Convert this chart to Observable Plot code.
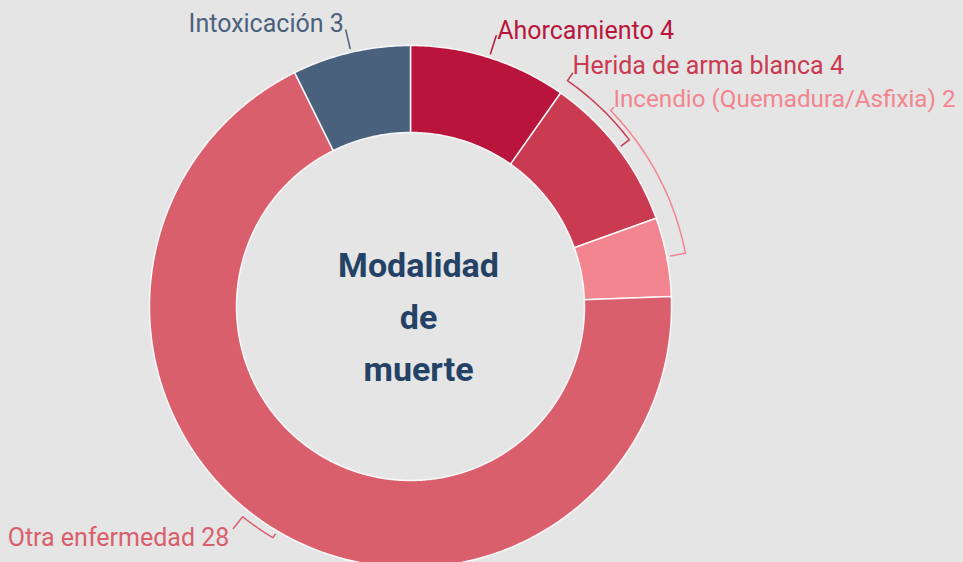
<!DOCTYPE html>
<html><head><meta charset="utf-8">
<script src="https://cdn.jsdelivr.net/npm/d3@7"></script>
<script src="https://cdn.jsdelivr.net/npm/@observablehq/plot@0.6"></script>
<style>
html,body{margin:0;padding:0;background:#e5e5e5;overflow:hidden}
#chart svg{display:block;background:#e5e5e5}
</style></head><body><div id="chart"></div>
<script>
// ---- data ----
const categories = ["Ahorcamiento", "Herida de arma blanca", "Incendio (Quemadura/Asfixia)", "Otra enfermedad", "Intoxicación"];
const values = [4, 4, 2, 28, 3];
const colors = ["#b9153c", "#ca3a51", "#f2858f", "#d95f6d", "#4a617d"];
const centerTitle = "Modalidad\nde\nmuerte";

// ---- label layout (annotation styling) ----
// labelAngle: angle (deg) where the label is attached (null = slice middle); bracketR: radius of bracket arc
const labelAngles = [null, 34.8, 45.6, 218.6, null];
const bracketR = [265, 275, 280, 269, 265];
const labelAnchor = ["start", "start", "start", "end", "end"];
const labelShift = [[1, 3], [0, 0.5], [0, -0.5], [-4, 18], [-2, 2]];
const labelSize = [25, 25, 24.2, 25, 25];

// ---- geometry ----
const W = 963, H = 562, cx = 410, cy = 306, R = 261, R0 = 174, tickR = 265, labelR = 284;
const data = categories.map((c, i) => ({name: c, value: values[i], color: colors[i], i}));
const arcs = d3.pie().sort(null).value(d => d.value)(data);
const pt = (r, a) => ({x: r * Math.sin(a), y: r * Math.cos(a)});
const rad = d => d * Math.PI / 180;

const slicePts = [];
for (const a of arcs) {
  const n = Math.max(8, Math.ceil((a.endAngle - a.startAngle) / rad(0.5)));
  const ring = [];
  for (let k = 0; k <= n; k++) ring.push(pt(R, a.startAngle + (a.endAngle - a.startAngle) * k / n));
  for (let k = n; k >= 0; k--) ring.push(pt(R0, a.startAngle + (a.endAngle - a.startAngle) * k / n));
  ring.push(ring[0]);
  ring.forEach(p => slicePts.push({...p, name: a.data.name, color: a.data.color}));
}

const leaderPts = [], labels = [];
arcs.forEach((a, i) => {
  const mid = (a.startAngle + a.endAngle) / 2;
  const la = labelAngles[i] == null ? mid : rad(labelAngles[i]);
  const br = bracketR[i];
  const pts = [pt(labelR, la), pt(br, la)];
  const n = Math.max(1, Math.ceil(Math.abs(mid - la) / rad(0.5)));
  for (let k = 1; k <= n; k++) pts.push(pt(br, la + (mid - la) * k / n));
  pts.push(pt(tickR, mid));
  pts.forEach(p => leaderPts.push({...p, name: a.data.name, color: a.data.color}));
  const lp = pt(labelR, la);
  labels.push({x: lp.x + labelShift[i][0], y: lp.y - labelShift[i][1], text: `${a.data.name} ${a.data.value}`, color: a.data.color, anchor: labelAnchor[i], size: labelSize[i]});
});

const font = "Roboto, 'Noto Sans', sans-serif";
const chart = Plot.plot({
  width: W, height: H, margin: 0,
  x: {domain: [-cx, W - cx], axis: null},
  y: {domain: [cy - H, cy], axis: null},
  color: {type: "identity"},
  style: {background: "#e5e5e5", fontFamily: font},
  marks: [
    Plot.line(slicePts, {x: "x", y: "y", z: "name", fill: "color", stroke: "#ffffff", strokeWidth: 1.5, strokeOpacity: 0.9, curve: "linear"}),
    Plot.line(leaderPts, {x: "x", y: "y", z: "name", stroke: "color", strokeWidth: 1.5, curve: "linear"}),
    Plot.text(labels.filter(d => d.anchor === "start"), {x: "x", y: "y", text: "text", fill: "color", textAnchor: "start", lineAnchor: "bottom", fontSize: "size", fontFamily: font}),
    Plot.text(labels.filter(d => d.anchor === "end"), {x: "x", y: "y", text: "text", fill: "color", textAnchor: "end", lineAnchor: "bottom", fontSize: "size", fontFamily: font}),
    Plot.text([centerTitle], {x: () => 0, y: () => 0, text: d => d, dx: 8, dy: 6, lineAnchor: "middle", lineHeight: 1.53, fontSize: 34, fontWeight: "bold", fill: "#234265", fontFamily: font})
  ]
});
document.getElementById("chart").appendChild(chart);
</script>
</body></html>
